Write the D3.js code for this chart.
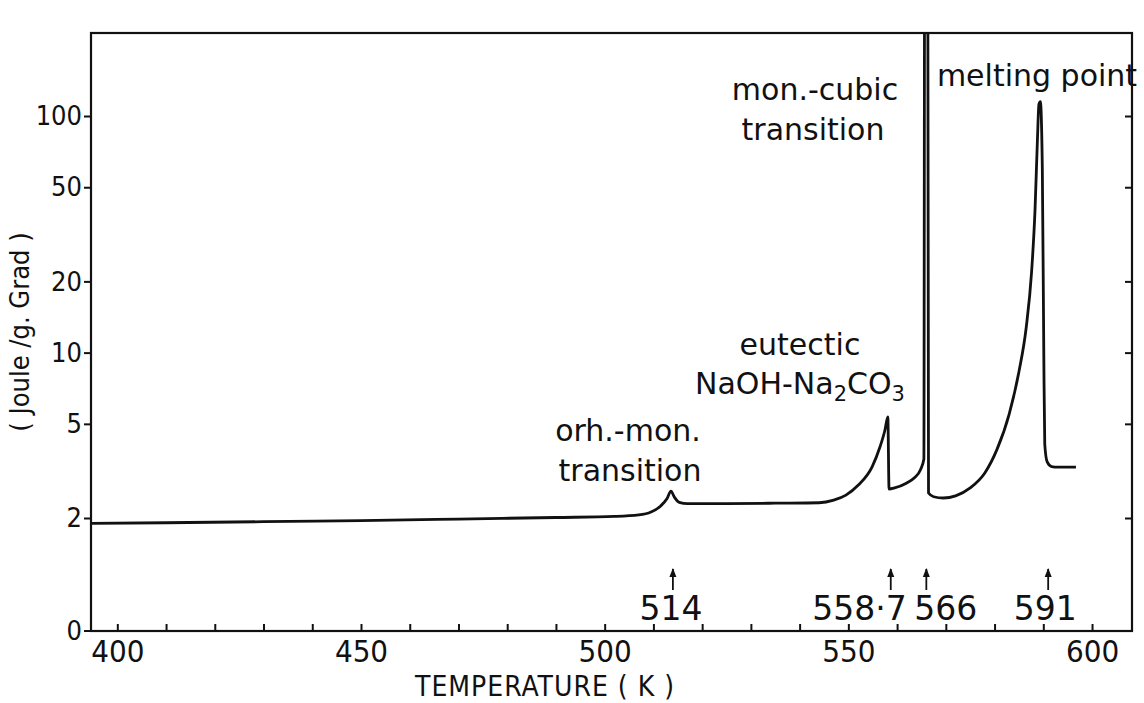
<!DOCTYPE html>
<html><head><meta charset="utf-8">
<script src="https://cdn.jsdelivr.net/npm/d3@7"></script>
<style>body{margin:0;background:#fff}</style></head>
<body>
<svg id="c" width="1144" height="703"></svg>
<script>
// ---- data ----
const temperature = [394.6,410,430,450,470,490,502,507,509.5,511.5,512.8,513.6,514.3,515.3,517,525,535,544,547,549.5,552,554.9,556.5,557.5,558.1,558.35,559.5,561.8,563.5,564.8,565.5,565.65,566.3,566.45,567.5,569.5,572,575,578,580.5,583,585,586.5,587.6,588.3,588.8,589.1,589.4,589.8,590.1,590.3,590.8,591.7,593,596.7];
const heatCapacity = [1.90,1.91,1.93,1.95,1.98,2.01,2.03,2.06,2.12,2.25,2.42,2.60,2.45,2.33,2.30,2.30,2.31,2.32,2.38,2.50,2.75,3.30,4.00,4.70,5.35,2.65,2.68,2.80,2.95,3.20,3.55,400,400,2.55,2.46,2.43,2.48,2.68,3.1,3.9,5.5,8.3,12.8,22,40,80,112,115,60,10,4.1,3.45,3.30,3.28,3.28];
const xTickValues = [400,410,420,430,440,450,460,470,480,490,500,510,520,530,540,550,560,570,580,590,600];
const xTickLabels = [400,450,500,550,600];
const yTickValues = [2,5,10,20,50,100];
const yZeroLabel = "0";
const transitionTemps = [514, 558.7, 566, 591];
const transitionLabels = ["514", "558·7", "566", "591"];

// ---- layout ----
const L = 91, R = 1132, T = 33, B = 631;
const svg = d3.select("#c");
const x = d3.scaleLinear().domain([394.6, 608.2]).range([L, R]);
const y = d3.scaleLog().domain([0.666, 224.3]).range([B, T]);

const condensed = "'DejaVu Sans Condensed','Liberation Sans Narrow','DejaVu Sans',sans-serif";
const sans = "'DejaVu Sans','Liberation Sans',Arial,sans-serif";

svg.append("defs").append("clipPath").attr("id","clip")
  .append("rect").attr("x",L).attr("y",T).attr("width",R-L).attr("height",B-T);

// frame
svg.append("rect").attr("x",L).attr("y",T).attr("width",R-L).attr("height",B-T)
  .attr("fill","none").attr("stroke","#111").attr("stroke-width",2.2);

// x axis (ticks inward)
const xAxis = d3.axisBottom(x).tickValues(xTickValues).tickSizeInner(-7).tickSizeOuter(0)
  .tickFormat(d => xTickLabels.includes(d) ? d : "");
const gx = svg.append("g").attr("transform",`translate(0,${B})`).call(xAxis);
gx.select(".domain").remove();
gx.selectAll("line").attr("stroke","#111").attr("stroke-width",2);
gx.selectAll("text").attr("font-family",condensed).attr("font-size",31).attr("fill","#111").attr("dy","0.9em");

// y axis left (ticks outward)
const yAxis = d3.axisLeft(y).tickValues(yTickValues).tickSize(7).tickFormat(d3.format("d"));
const gy = svg.append("g").attr("transform",`translate(${L},0)`).call(yAxis);
gy.select(".domain").remove();
gy.selectAll("line").attr("stroke","#111").attr("stroke-width",2);
gy.selectAll("text").attr("font-family",condensed).attr("font-size",27).attr("fill","#111").attr("x",-9);
svg.append("line").attr("x1",L-7).attr("x2",L).attr("y1",B).attr("y2",B).attr("stroke","#111").attr("stroke-width",2);
svg.append("text").attr("x",L-9).attr("y",B).attr("dy","0.32em").attr("text-anchor","end")
  .attr("font-family",condensed).attr("font-size",27).attr("fill","#111").text(yZeroLabel);

// y axis right (ticks inward)
const yAxisR = d3.axisLeft(y).tickValues(yTickValues).tickSize(7).tickFormat("");
const gyr = svg.append("g").attr("transform",`translate(${R},0)`).call(yAxisR);
gyr.select(".domain").remove();
gyr.selectAll("line").attr("stroke","#111").attr("stroke-width",2);

// curve
const pts = temperature.map((t,i)=>[t, heatCapacity[i]]);
const line = d3.line().x(d=>x(d[0])).y(d=>y(d[1])).curve(d3.curveMonotoneX);
svg.append("path").datum(pts).attr("clip-path","url(#clip)")
  .attr("d",line).attr("fill","none").attr("stroke","#111").attr("stroke-width",2.8)
  .attr("stroke-linejoin","round");

// transition arrows and labels
const arrowTop = 569, arrowBot = 590;
transitionTemps.forEach((t,i)=>{
  const cx = x(t);
  svg.append("line").attr("x1",cx).attr("x2",cx).attr("y1",arrowTop).attr("y2",arrowBot)
    .attr("stroke","#111").attr("stroke-width",1.8);
  svg.append("path").attr("d",`M${cx-3.5},${arrowTop+8}L${cx},${arrowTop-1}L${cx+3.5},${arrowTop+8}Z`).attr("fill","#111");
});
const labelCfg = [
  {anchor:"middle", dx:-2},
  {anchor:"end", dx:16},
  {anchor:"start", dx:-12},
  {anchor:"middle", dx:-3}
];
transitionLabels.forEach((s,i)=>{
  svg.append("text").attr("x",x(transitionTemps[i])+labelCfg[i].dx).attr("y",620)
    .attr("text-anchor",labelCfg[i].anchor).attr("font-family",sans).attr("font-size",33)
    .attr("fill","#111").text(s);
});

// annotations
function ann(txt, cx, by, size){
  return svg.append("text").attr("x",cx).attr("y",by).attr("text-anchor","middle")
    .attr("font-family",sans).attr("font-size",size||30).attr("fill","#111").text(txt);
}
ann("orh.-mon.", 628, 441);
ann("transition", 630, 481);
ann("eutectic", 800, 355);
const eu = svg.append("text").attr("x",800).attr("y",394).attr("text-anchor","middle")
  .attr("font-family",sans).attr("font-size",30).attr("fill","#111");
eu.append("tspan").text("NaOH-Na");
eu.append("tspan").attr("font-size",21).attr("dy",7).text("2");
eu.append("tspan").attr("dy",-7).text("CO");
eu.append("tspan").attr("font-size",21).attr("dy",7).text("3");
ann("mon.-cubic", 815, 100);
ann("transition", 813, 140);
ann("melting point", 1037, 86);

// axis titles
svg.append("text").attr("transform","translate(29,332) rotate(-90)").attr("text-anchor","middle")
  .attr("font-family",condensed).attr("font-size",27).attr("fill","#111").text("( Joule /g. Grad )");
svg.append("text").attr("x",545).attr("y",696).attr("text-anchor","middle")
  .attr("font-family",condensed).attr("font-size",28).attr("letter-spacing",1).attr("fill","#111").text("TEMPERATURE ( K )");
</script>
</body></html>
